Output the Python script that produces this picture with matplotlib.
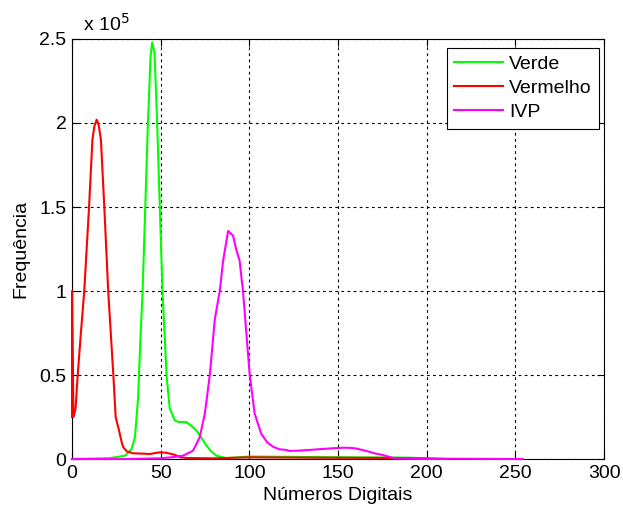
import numpy as np
import matplotlib
matplotlib.use("Agg")
from matplotlib import pyplot as plt

plt.rcParams['font.family'] = ['Liberation Sans', 'DejaVu Sans']

# histogram curves (x = digital number, y = count)
verde_x = [0, 21, 30, 33.6, 35.5, 37.3, 38.5, 39.8, 41.3, 42.8, 44.3, 45.2, 46.5,
           48.0, 49.5, 51.0, 53.3, 55.1, 58, 60, 64.5, 67, 70.2, 73, 75.8, 78.5,
           81.4, 87, 100, 130, 160, 190, 210]
verde_y = [0, 500, 2000, 6000, 13000, 37000, 70000, 100000, 150000, 200000,
           240000, 248000, 242000, 200000, 150000, 100000, 50000, 30000, 23000,
           22000, 22000, 20000, 17000, 12500, 8000, 4500, 2000, 500, 1500, 1200,
           1000, 800, 0]

vermelho_x = [0, 0, 0.8, 2, 3.2, 5, 6.9, 9.6, 11.5, 12.6, 13.9, 15.0, 16.3, 18.2,
              20.4, 23.3, 24.6, 26.5, 28, 28.9, 31, 34.5, 40, 44, 47.7, 50, 53.3,
              56, 58, 61, 65, 80, 100, 130, 160, 185, 212]
vermelho_y = [25000, 100000, 25000, 30000, 50000, 75000, 100000, 150000, 190000,
              198000, 202000, 199000, 190000, 150000, 100000, 50000, 25000, 17000,
              10000, 7000, 4500, 3400, 3200, 3000, 3700, 4000, 3700, 3000, 2500,
              1000, 600, 400, 1000, 800, 700, 600, 0]

ivp_x = [0, 30, 49.5, 56, 62.6, 68.3, 72, 74.9, 77.7, 80.5, 83.3, 85.2, 88.0,
         90.8, 92.5, 94.5, 96.4, 98.3, 100.2, 103, 106.7, 110, 113.3, 117, 120.8,
         122.7, 128, 134, 141.4, 147, 152.7, 156, 160, 164, 167.7, 171, 175.2,
         181.8, 190, 220, 254]
ivp_y = [0, 0, 400, 1000, 2000, 5000, 13000, 27000, 50000, 83000, 100000, 118000,
         135700, 133000, 125000, 118000, 100000, 75000, 50000, 27000, 15000, 10000,
         7300, 5800, 5400, 4800, 5000, 5400, 6000, 6400, 6700, 6700, 6300, 5300,
         4300, 3300, 2400, 400, 200, 150, 0]

y_ticks = [0, 50000, 100000, 150000, 200000, 250000]
y_labels = ['0', '0.5', '1', '1.5', '2', '2.5']
x_ticks = [0, 50, 100, 150, 200, 250, 300]

fig = plt.figure(figsize=(6.23, 5.09), dpi=100)
ax = fig.add_axes([0.1156, 0.0982, 0.854, 0.8252])

ax.plot(verde_x, verde_y, color=(0, 1, 0), lw=1.5, label='Verde', clip_on=False, zorder=3)
ax.plot(vermelho_x, vermelho_y, color=(1, 0, 0), lw=1.5, label='Vermelho', clip_on=False, zorder=3)
ax.plot(ivp_x, ivp_y, color=(1, 0, 1), lw=1.5, label='IVP', clip_on=False, zorder=3)

ax.set_xlim(0, 300)
ax.set_ylim(0, 250000)
ax.set_xticks(x_ticks)
ax.set_yticks(y_ticks)
ax.set_yticklabels(y_labels)
ax.tick_params(direction='in', top=True, right=True, labelsize=14, length=5, pad=4)
ax.grid(True, color='black', linestyle=(0, (2.5, 3)), linewidth=0.8)
ax.set_axisbelow(True)

ax.set_xlabel('Números Digitais', fontsize=14, labelpad=4)
ax.set_ylabel('Frequência', fontsize=14, labelpad=7)
ax.text(0.02, 1.01, r'x 10$^5$', transform=ax.transAxes, fontsize=14,
        ha='left', va='bottom')

leg = ax.legend(loc='upper right', fontsize=14, fancybox=False, framealpha=1,
                edgecolor='black', handlelength=2.5, handletextpad=0.3,
                borderpad=0.4, labelspacing=0.33, borderaxespad=0,
                bbox_to_anchor=(0.991, 0.979))
leg.get_frame().set_linewidth(0.8)

fig.savefig('out.png', dpi=100)
